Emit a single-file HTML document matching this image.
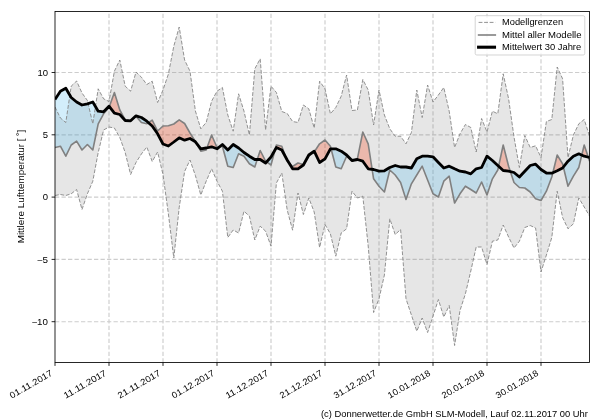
<!DOCTYPE html>
<html><head><meta charset="utf-8"><title>chart</title>
<style>html,body{margin:0;padding:0;background:#fff;}svg{display:block;will-change:transform;}text{font-family:"Liberation Sans",sans-serif;font-size:8.8px;fill:#000;}</style></head><body>
<svg width="600" height="420" viewBox="0 0 600 420">
<rect width="600" height="420" fill="#fff"/>
<defs>
<clipPath id="ax"><rect x="55.0" y="11.5" width="534.5" height="351.0"/></clipPath>
<clipPath id="above"><polygon points="55.0,99.5 60.4,91.2 65.8,88.2 71.2,97.5 76.6,102.0 82.0,105.0 87.4,103.8 92.8,102.0 98.2,111.2 103.6,111.8 109.0,106.2 114.4,113.2 119.8,114.5 125.2,120.5 130.6,120.8 136.0,115.8 141.4,117.5 146.8,121.2 152.2,126.0 157.6,133.8 163.0,144.0 168.4,146.0 173.8,142.0 179.2,137.8 184.6,140.2 190.0,138.5 195.4,141.8 200.8,148.8 206.2,148.0 211.6,146.8 217.0,148.8 222.4,144.5 227.8,150.0 233.2,144.5 238.6,148.0 244.0,152.5 249.4,156.2 254.8,159.5 260.2,159.5 265.6,163.0 271.0,157.0 276.4,147.5 281.8,150.0 287.2,160.0 292.6,168.8 298.0,168.8 303.4,165.0 308.8,155.0 314.2,151.2 319.6,162.5 325.0,158.8 330.4,148.8 335.8,148.8 341.2,151.2 346.6,155.0 352.0,160.5 357.4,159.5 362.8,161.2 368.2,168.8 373.6,169.5 379.0,171.2 384.4,170.8 389.8,167.5 395.2,165.5 400.6,167.0 406.0,167.0 411.4,168.0 416.8,158.8 422.2,156.2 427.6,156.2 433.0,156.8 438.4,162.5 443.8,168.0 449.2,166.2 454.6,168.8 460.0,171.2 465.4,172.0 470.8,173.8 476.2,168.8 481.6,167.5 487.0,156.2 492.4,160.5 497.8,165.5 503.2,170.5 508.6,171.2 514.0,172.5 519.4,177.0 524.8,171.2 530.2,165.5 535.6,164.2 541.0,169.5 546.4,173.0 551.8,173.2 557.2,170.8 562.6,168.0 568.0,161.2 573.4,156.2 578.8,153.8 584.2,156.2 589.6,157.5 589.5,0 55.0,0"/></clipPath>
<clipPath id="below"><polygon points="55.0,99.5 60.4,91.2 65.8,88.2 71.2,97.5 76.6,102.0 82.0,105.0 87.4,103.8 92.8,102.0 98.2,111.2 103.6,111.8 109.0,106.2 114.4,113.2 119.8,114.5 125.2,120.5 130.6,120.8 136.0,115.8 141.4,117.5 146.8,121.2 152.2,126.0 157.6,133.8 163.0,144.0 168.4,146.0 173.8,142.0 179.2,137.8 184.6,140.2 190.0,138.5 195.4,141.8 200.8,148.8 206.2,148.0 211.6,146.8 217.0,148.8 222.4,144.5 227.8,150.0 233.2,144.5 238.6,148.0 244.0,152.5 249.4,156.2 254.8,159.5 260.2,159.5 265.6,163.0 271.0,157.0 276.4,147.5 281.8,150.0 287.2,160.0 292.6,168.8 298.0,168.8 303.4,165.0 308.8,155.0 314.2,151.2 319.6,162.5 325.0,158.8 330.4,148.8 335.8,148.8 341.2,151.2 346.6,155.0 352.0,160.5 357.4,159.5 362.8,161.2 368.2,168.8 373.6,169.5 379.0,171.2 384.4,170.8 389.8,167.5 395.2,165.5 400.6,167.0 406.0,167.0 411.4,168.0 416.8,158.8 422.2,156.2 427.6,156.2 433.0,156.8 438.4,162.5 443.8,168.0 449.2,166.2 454.6,168.8 460.0,171.2 465.4,172.0 470.8,173.8 476.2,168.8 481.6,167.5 487.0,156.2 492.4,160.5 497.8,165.5 503.2,170.5 508.6,171.2 514.0,172.5 519.4,177.0 524.8,171.2 530.2,165.5 535.6,164.2 541.0,169.5 546.4,173.0 551.8,173.2 557.2,170.8 562.6,168.0 568.0,161.2 573.4,156.2 578.8,153.8 584.2,156.2 589.6,157.5 589.5,420 55.0,420"/></clipPath>
</defs>
<g stroke="#cdcdcd" stroke-width="1.15" stroke-dasharray="4.3 2.2" fill="none">
<line x1="109.0" y1="362.5" x2="109.0" y2="11.5"/>
<line x1="163.0" y1="362.5" x2="163.0" y2="11.5"/>
<line x1="217.0" y1="362.5" x2="217.0" y2="11.5"/>
<line x1="271.0" y1="362.5" x2="271.0" y2="11.5"/>
<line x1="325.0" y1="362.5" x2="325.0" y2="11.5"/>
<line x1="379.0" y1="362.5" x2="379.0" y2="11.5"/>
<line x1="433.0" y1="362.5" x2="433.0" y2="11.5"/>
<line x1="487.0" y1="362.5" x2="487.0" y2="11.5"/>
<line x1="541.0" y1="362.5" x2="541.0" y2="11.5"/>
<line x1="55.0" y1="72.5" x2="589.5" y2="72.5"/>
<line x1="55.0" y1="134.8" x2="589.5" y2="134.8"/>
<line x1="55.0" y1="197.1" x2="589.5" y2="197.1"/>
<line x1="55.0" y1="259.4" x2="589.5" y2="259.4"/>
<line x1="55.0" y1="321.7" x2="589.5" y2="321.7"/>
</g>
<g clip-path="url(#ax)">
<polygon points="55.0,107.0 60.4,118.0 65.8,122.5 71.2,86.2 76.6,81.0 82.0,93.0 87.4,100.5 92.8,123.8 98.2,88.8 103.6,98.8 109.0,101.5 114.4,71.2 119.8,60.0 125.2,86.2 130.6,91.2 136.0,72.0 141.4,77.2 146.8,84.5 152.2,81.2 157.6,102.5 163.0,90.0 168.4,74.0 173.8,46.2 179.2,27.0 184.6,60.0 190.0,71.2 195.4,111.0 200.8,128.8 206.2,122.5 211.6,101.2 217.0,91.2 222.4,87.5 227.8,115.0 233.2,131.2 238.6,93.8 244.0,111.2 249.4,135.0 254.8,68.8 260.2,58.8 265.6,130.0 271.0,86.2 276.4,92.5 281.8,111.5 287.2,113.5 292.6,121.5 298.0,122.5 303.4,105.0 308.8,108.8 314.2,128.0 319.6,81.2 325.0,88.8 330.4,113.8 335.8,107.5 341.2,96.2 346.6,75.0 352.0,110.5 357.4,110.0 362.8,79.5 368.2,90.0 373.6,125.0 379.0,90.0 384.4,115.0 389.8,128.8 395.2,136.2 400.6,136.2 406.0,143.8 411.4,132.5 416.8,90.0 422.2,117.5 427.6,85.0 433.0,102.0 438.4,95.0 443.8,87.5 449.2,111.2 454.6,147.5 460.0,133.8 465.4,124.5 470.8,127.5 476.2,152.0 481.6,118.5 487.0,132.0 492.4,111.2 497.8,113.8 503.2,73.8 508.6,98.8 514.0,137.0 519.4,167.5 524.8,135.5 530.2,147.5 535.6,145.8 541.0,157.5 546.4,121.5 551.8,119.5 557.2,67.0 562.6,78.8 568.0,157.5 573.4,135.0 578.8,123.8 584.2,119.5 589.6,136.2 589.6,216.0 584.2,207.0 578.8,198.0 573.4,223.8 568.0,228.8 562.6,217.5 557.2,191.2 551.8,237.5 546.4,255.0 541.0,272.0 535.6,228.0 530.2,225.5 524.8,227.5 519.4,241.2 514.0,248.0 508.6,237.0 503.2,225.0 497.8,240.0 492.4,241.2 487.0,264.5 481.6,247.0 476.2,247.0 470.8,271.0 465.4,293.8 460.0,310.5 454.6,345.5 449.2,305.5 443.8,317.0 438.4,299.5 433.0,316.2 427.6,332.5 422.2,318.0 416.8,331.2 411.4,315.0 406.0,298.8 400.6,229.5 395.2,234.5 389.8,218.8 384.4,275.0 379.0,298.8 373.6,312.5 368.2,246.0 362.8,196.2 357.4,198.0 352.0,191.2 346.6,228.8 341.2,233.0 335.8,256.2 330.4,233.8 325.0,224.5 319.6,247.5 314.2,212.0 308.8,198.0 303.4,214.5 298.0,193.0 292.6,230.2 287.2,210.0 281.8,173.0 276.4,183.0 271.0,246.2 265.6,231.2 260.2,226.2 254.8,240.0 249.4,216.2 244.0,211.2 238.6,233.0 233.2,230.0 227.8,237.5 222.4,191.2 217.0,181.2 211.6,168.8 206.2,181.2 200.8,195.0 195.4,175.5 190.0,160.0 184.6,171.5 179.2,207.5 173.8,258.0 168.4,214.0 163.0,174.5 157.6,152.0 152.2,161.5 146.8,147.0 141.4,154.0 136.0,162.5 130.6,174.5 125.2,152.5 119.8,137.5 114.4,128.0 109.0,127.0 103.6,130.0 98.2,152.5 92.8,181.2 87.4,193.8 82.0,209.5 76.6,189.5 71.2,193.8 65.8,195.5 60.4,194.5 55.0,195.5" fill="rgb(128,128,128)" fill-opacity="0.2"/>
<g clip-path="url(#above)"><polygon points="55.0,147.5 60.4,146.2 65.8,156.2 71.2,145.0 76.6,141.2 82.0,150.0 87.4,144.5 92.8,150.0 98.2,123.8 103.6,113.8 109.0,107.5 114.4,92.5 119.8,110.0 125.2,120.0 130.6,120.8 136.0,116.2 141.4,122.5 146.8,123.8 152.2,120.2 157.6,131.0 163.0,126.0 168.4,125.8 173.8,124.0 179.2,119.8 184.6,123.5 190.0,133.0 195.4,141.5 200.8,151.2 206.2,150.0 211.6,135.0 217.0,147.5 222.4,146.2 227.8,166.2 233.2,167.5 238.6,153.8 244.0,156.2 249.4,163.8 254.8,167.0 260.2,150.5 265.6,161.2 271.0,165.0 276.4,145.0 281.8,146.2 287.2,161.2 292.6,166.5 298.0,163.0 303.4,164.5 308.8,156.2 314.2,152.0 319.6,143.8 325.0,140.0 330.4,146.2 335.8,167.0 341.2,168.8 346.6,156.2 352.0,161.2 357.4,158.8 362.8,132.0 368.2,143.8 373.6,178.8 379.0,186.2 384.4,192.0 389.8,170.0 395.2,175.0 400.6,182.5 406.0,199.5 411.4,183.8 416.8,175.0 422.2,166.2 427.6,180.0 433.0,193.8 438.4,197.0 443.8,181.2 449.2,176.2 454.6,203.0 460.0,193.8 465.4,186.2 470.8,189.5 476.2,193.0 481.6,182.0 487.0,195.0 492.4,178.8 497.8,170.0 503.2,145.0 508.6,166.2 514.0,182.5 519.4,187.5 524.8,188.0 530.2,192.0 535.6,198.8 541.0,200.5 546.4,191.2 551.8,177.0 557.2,155.0 562.6,163.8 568.0,186.2 573.4,176.2 578.8,167.5 584.2,145.0 589.6,161.2 589.6,157.5 584.2,156.2 578.8,153.8 573.4,156.2 568.0,161.2 562.6,168.0 557.2,170.8 551.8,173.2 546.4,173.0 541.0,169.5 535.6,164.2 530.2,165.5 524.8,171.2 519.4,177.0 514.0,172.5 508.6,171.2 503.2,170.5 497.8,165.5 492.4,160.5 487.0,156.2 481.6,167.5 476.2,168.8 470.8,173.8 465.4,172.0 460.0,171.2 454.6,168.8 449.2,166.2 443.8,168.0 438.4,162.5 433.0,156.8 427.6,156.2 422.2,156.2 416.8,158.8 411.4,168.0 406.0,167.0 400.6,167.0 395.2,165.5 389.8,167.5 384.4,170.8 379.0,171.2 373.6,169.5 368.2,168.8 362.8,161.2 357.4,159.5 352.0,160.5 346.6,155.0 341.2,151.2 335.8,148.8 330.4,148.8 325.0,158.8 319.6,162.5 314.2,151.2 308.8,155.0 303.4,165.0 298.0,168.8 292.6,168.8 287.2,160.0 281.8,150.0 276.4,147.5 271.0,157.0 265.6,163.0 260.2,159.5 254.8,159.5 249.4,156.2 244.0,152.5 238.6,148.0 233.2,144.5 227.8,150.0 222.4,144.5 217.0,148.8 211.6,146.8 206.2,148.0 200.8,148.8 195.4,141.8 190.0,138.5 184.6,140.2 179.2,137.8 173.8,142.0 168.4,146.0 163.0,144.0 157.6,133.8 152.2,126.0 146.8,121.2 141.4,117.5 136.0,115.8 130.6,120.8 125.2,120.5 119.8,114.5 114.4,113.2 109.0,106.2 103.6,111.8 98.2,111.2 92.8,102.0 87.4,103.8 82.0,105.0 76.6,102.0 71.2,97.5 65.8,88.2 60.4,91.2 55.0,99.5" fill="rgb(250,46,0)" fill-opacity="0.25"/></g>
<g clip-path="url(#below)"><polygon points="55.0,147.5 60.4,146.2 65.8,156.2 71.2,145.0 76.6,141.2 82.0,150.0 87.4,144.5 92.8,150.0 98.2,123.8 103.6,113.8 109.0,107.5 114.4,92.5 119.8,110.0 125.2,120.0 130.6,120.8 136.0,116.2 141.4,122.5 146.8,123.8 152.2,120.2 157.6,131.0 163.0,126.0 168.4,125.8 173.8,124.0 179.2,119.8 184.6,123.5 190.0,133.0 195.4,141.5 200.8,151.2 206.2,150.0 211.6,135.0 217.0,147.5 222.4,146.2 227.8,166.2 233.2,167.5 238.6,153.8 244.0,156.2 249.4,163.8 254.8,167.0 260.2,150.5 265.6,161.2 271.0,165.0 276.4,145.0 281.8,146.2 287.2,161.2 292.6,166.5 298.0,163.0 303.4,164.5 308.8,156.2 314.2,152.0 319.6,143.8 325.0,140.0 330.4,146.2 335.8,167.0 341.2,168.8 346.6,156.2 352.0,161.2 357.4,158.8 362.8,132.0 368.2,143.8 373.6,178.8 379.0,186.2 384.4,192.0 389.8,170.0 395.2,175.0 400.6,182.5 406.0,199.5 411.4,183.8 416.8,175.0 422.2,166.2 427.6,180.0 433.0,193.8 438.4,197.0 443.8,181.2 449.2,176.2 454.6,203.0 460.0,193.8 465.4,186.2 470.8,189.5 476.2,193.0 481.6,182.0 487.0,195.0 492.4,178.8 497.8,170.0 503.2,145.0 508.6,166.2 514.0,182.5 519.4,187.5 524.8,188.0 530.2,192.0 535.6,198.8 541.0,200.5 546.4,191.2 551.8,177.0 557.2,155.0 562.6,163.8 568.0,186.2 573.4,176.2 578.8,167.5 584.2,145.0 589.6,161.2 589.6,157.5 584.2,156.2 578.8,153.8 573.4,156.2 568.0,161.2 562.6,168.0 557.2,170.8 551.8,173.2 546.4,173.0 541.0,169.5 535.6,164.2 530.2,165.5 524.8,171.2 519.4,177.0 514.0,172.5 508.6,171.2 503.2,170.5 497.8,165.5 492.4,160.5 487.0,156.2 481.6,167.5 476.2,168.8 470.8,173.8 465.4,172.0 460.0,171.2 454.6,168.8 449.2,166.2 443.8,168.0 438.4,162.5 433.0,156.8 427.6,156.2 422.2,156.2 416.8,158.8 411.4,168.0 406.0,167.0 400.6,167.0 395.2,165.5 389.8,167.5 384.4,170.8 379.0,171.2 373.6,169.5 368.2,168.8 362.8,161.2 357.4,159.5 352.0,160.5 346.6,155.0 341.2,151.2 335.8,148.8 330.4,148.8 325.0,158.8 319.6,162.5 314.2,151.2 308.8,155.0 303.4,165.0 298.0,168.8 292.6,168.8 287.2,160.0 281.8,150.0 276.4,147.5 271.0,157.0 265.6,163.0 260.2,159.5 254.8,159.5 249.4,156.2 244.0,152.5 238.6,148.0 233.2,144.5 227.8,150.0 222.4,144.5 217.0,148.8 211.6,146.8 206.2,148.0 200.8,148.8 195.4,141.8 190.0,138.5 184.6,140.2 179.2,137.8 173.8,142.0 168.4,146.0 163.0,144.0 157.6,133.8 152.2,126.0 146.8,121.2 141.4,117.5 136.0,115.8 130.6,120.8 125.2,120.5 119.8,114.5 114.4,113.2 109.0,106.2 103.6,111.8 98.2,111.2 92.8,102.0 87.4,103.8 82.0,105.0 76.6,102.0 71.2,97.5 65.8,88.2 60.4,91.2 55.0,99.5" fill="rgb(80,188,240)" fill-opacity="0.25"/></g>
<g stroke="#868686" stroke-width="0.9" stroke-dasharray="3.85 1.67" fill="none">
<polyline points="55.0,107.0 60.4,118.0 65.8,122.5 71.2,86.2 76.6,81.0 82.0,93.0 87.4,100.5 92.8,123.8 98.2,88.8 103.6,98.8 109.0,101.5 114.4,71.2 119.8,60.0 125.2,86.2 130.6,91.2 136.0,72.0 141.4,77.2 146.8,84.5 152.2,81.2 157.6,102.5 163.0,90.0 168.4,74.0 173.8,46.2 179.2,27.0 184.6,60.0 190.0,71.2 195.4,111.0 200.8,128.8 206.2,122.5 211.6,101.2 217.0,91.2 222.4,87.5 227.8,115.0 233.2,131.2 238.6,93.8 244.0,111.2 249.4,135.0 254.8,68.8 260.2,58.8 265.6,130.0 271.0,86.2 276.4,92.5 281.8,111.5 287.2,113.5 292.6,121.5 298.0,122.5 303.4,105.0 308.8,108.8 314.2,128.0 319.6,81.2 325.0,88.8 330.4,113.8 335.8,107.5 341.2,96.2 346.6,75.0 352.0,110.5 357.4,110.0 362.8,79.5 368.2,90.0 373.6,125.0 379.0,90.0 384.4,115.0 389.8,128.8 395.2,136.2 400.6,136.2 406.0,143.8 411.4,132.5 416.8,90.0 422.2,117.5 427.6,85.0 433.0,102.0 438.4,95.0 443.8,87.5 449.2,111.2 454.6,147.5 460.0,133.8 465.4,124.5 470.8,127.5 476.2,152.0 481.6,118.5 487.0,132.0 492.4,111.2 497.8,113.8 503.2,73.8 508.6,98.8 514.0,137.0 519.4,167.5 524.8,135.5 530.2,147.5 535.6,145.8 541.0,157.5 546.4,121.5 551.8,119.5 557.2,67.0 562.6,78.8 568.0,157.5 573.4,135.0 578.8,123.8 584.2,119.5 589.6,136.2"/>
<polyline points="55.0,195.5 60.4,194.5 65.8,195.5 71.2,193.8 76.6,189.5 82.0,209.5 87.4,193.8 92.8,181.2 98.2,152.5 103.6,130.0 109.0,127.0 114.4,128.0 119.8,137.5 125.2,152.5 130.6,174.5 136.0,162.5 141.4,154.0 146.8,147.0 152.2,161.5 157.6,152.0 163.0,174.5 168.4,214.0 173.8,258.0 179.2,207.5 184.6,171.5 190.0,160.0 195.4,175.5 200.8,195.0 206.2,181.2 211.6,168.8 217.0,181.2 222.4,191.2 227.8,237.5 233.2,230.0 238.6,233.0 244.0,211.2 249.4,216.2 254.8,240.0 260.2,226.2 265.6,231.2 271.0,246.2 276.4,183.0 281.8,173.0 287.2,210.0 292.6,230.2 298.0,193.0 303.4,214.5 308.8,198.0 314.2,212.0 319.6,247.5 325.0,224.5 330.4,233.8 335.8,256.2 341.2,233.0 346.6,228.8 352.0,191.2 357.4,198.0 362.8,196.2 368.2,246.0 373.6,312.5 379.0,298.8 384.4,275.0 389.8,218.8 395.2,234.5 400.6,229.5 406.0,298.8 411.4,315.0 416.8,331.2 422.2,318.0 427.6,332.5 433.0,316.2 438.4,299.5 443.8,317.0 449.2,305.5 454.6,345.5 460.0,310.5 465.4,293.8 470.8,271.0 476.2,247.0 481.6,247.0 487.0,264.5 492.4,241.2 497.8,240.0 503.2,225.0 508.6,237.0 514.0,248.0 519.4,241.2 524.8,227.5 530.2,225.5 535.6,228.0 541.0,272.0 546.4,255.0 551.8,237.5 557.2,191.2 562.6,217.5 568.0,228.8 573.4,223.8 578.8,198.0 584.2,207.0 589.6,216.0"/>
</g>
<polyline points="55.0,147.5 60.4,146.2 65.8,156.2 71.2,145.0 76.6,141.2 82.0,150.0 87.4,144.5 92.8,150.0 98.2,123.8 103.6,113.8 109.0,107.5 114.4,92.5 119.8,110.0 125.2,120.0 130.6,120.8 136.0,116.2 141.4,122.5 146.8,123.8 152.2,120.2 157.6,131.0 163.0,126.0 168.4,125.8 173.8,124.0 179.2,119.8 184.6,123.5 190.0,133.0 195.4,141.5 200.8,151.2 206.2,150.0 211.6,135.0 217.0,147.5 222.4,146.2 227.8,166.2 233.2,167.5 238.6,153.8 244.0,156.2 249.4,163.8 254.8,167.0 260.2,150.5 265.6,161.2 271.0,165.0 276.4,145.0 281.8,146.2 287.2,161.2 292.6,166.5 298.0,163.0 303.4,164.5 308.8,156.2 314.2,152.0 319.6,143.8 325.0,140.0 330.4,146.2 335.8,167.0 341.2,168.8 346.6,156.2 352.0,161.2 357.4,158.8 362.8,132.0 368.2,143.8 373.6,178.8 379.0,186.2 384.4,192.0 389.8,170.0 395.2,175.0 400.6,182.5 406.0,199.5 411.4,183.8 416.8,175.0 422.2,166.2 427.6,180.0 433.0,193.8 438.4,197.0 443.8,181.2 449.2,176.2 454.6,203.0 460.0,193.8 465.4,186.2 470.8,189.5 476.2,193.0 481.6,182.0 487.0,195.0 492.4,178.8 497.8,170.0 503.2,145.0 508.6,166.2 514.0,182.5 519.4,187.5 524.8,188.0 530.2,192.0 535.6,198.8 541.0,200.5 546.4,191.2 551.8,177.0 557.2,155.0 562.6,163.8 568.0,186.2 573.4,176.2 578.8,167.5 584.2,145.0 589.6,161.2" fill="none" stroke="#808080" stroke-width="1.6" stroke-linejoin="round"/>
<polyline points="55.0,99.5 60.4,91.2 65.8,88.2 71.2,97.5 76.6,102.0 82.0,105.0 87.4,103.8 92.8,102.0 98.2,111.2 103.6,111.8 109.0,106.2 114.4,113.2 119.8,114.5 125.2,120.5 130.6,120.8 136.0,115.8 141.4,117.5 146.8,121.2 152.2,126.0 157.6,133.8 163.0,144.0 168.4,146.0 173.8,142.0 179.2,137.8 184.6,140.2 190.0,138.5 195.4,141.8 200.8,148.8 206.2,148.0 211.6,146.8 217.0,148.8 222.4,144.5 227.8,150.0 233.2,144.5 238.6,148.0 244.0,152.5 249.4,156.2 254.8,159.5 260.2,159.5 265.6,163.0 271.0,157.0 276.4,147.5 281.8,150.0 287.2,160.0 292.6,168.8 298.0,168.8 303.4,165.0 308.8,155.0 314.2,151.2 319.6,162.5 325.0,158.8 330.4,148.8 335.8,148.8 341.2,151.2 346.6,155.0 352.0,160.5 357.4,159.5 362.8,161.2 368.2,168.8 373.6,169.5 379.0,171.2 384.4,170.8 389.8,167.5 395.2,165.5 400.6,167.0 406.0,167.0 411.4,168.0 416.8,158.8 422.2,156.2 427.6,156.2 433.0,156.8 438.4,162.5 443.8,168.0 449.2,166.2 454.6,168.8 460.0,171.2 465.4,172.0 470.8,173.8 476.2,168.8 481.6,167.5 487.0,156.2 492.4,160.5 497.8,165.5 503.2,170.5 508.6,171.2 514.0,172.5 519.4,177.0 524.8,171.2 530.2,165.5 535.6,164.2 541.0,169.5 546.4,173.0 551.8,173.2 557.2,170.8 562.6,168.0 568.0,161.2 573.4,156.2 578.8,153.8 584.2,156.2 589.6,157.5" fill="none" stroke="#000" stroke-width="2.8" stroke-linejoin="round" stroke-linecap="butt"/>
</g>
<rect x="55.0" y="11.5" width="534.5" height="351.0" fill="none" stroke="#000" stroke-width="0.85"/>
<g stroke="#000" stroke-width="0.85">
<line x1="55.0" y1="362.5" x2="55.0" y2="365.9"/>
<line x1="109.0" y1="362.5" x2="109.0" y2="365.9"/>
<line x1="163.0" y1="362.5" x2="163.0" y2="365.9"/>
<line x1="217.0" y1="362.5" x2="217.0" y2="365.9"/>
<line x1="271.0" y1="362.5" x2="271.0" y2="365.9"/>
<line x1="325.0" y1="362.5" x2="325.0" y2="365.9"/>
<line x1="379.0" y1="362.5" x2="379.0" y2="365.9"/>
<line x1="433.0" y1="362.5" x2="433.0" y2="365.9"/>
<line x1="487.0" y1="362.5" x2="487.0" y2="365.9"/>
<line x1="541.0" y1="362.5" x2="541.0" y2="365.9"/>
<line x1="51.6" y1="72.5" x2="55.0" y2="72.5"/>
<line x1="51.6" y1="134.8" x2="55.0" y2="134.8"/>
<line x1="51.6" y1="197.1" x2="55.0" y2="197.1"/>
<line x1="51.6" y1="259.4" x2="55.0" y2="259.4"/>
<line x1="51.6" y1="321.7" x2="55.0" y2="321.7"/>
</g>
<text x="48.0" y="75.7" text-anchor="end" textLength="10.6" lengthAdjust="spacingAndGlyphs">10</text>
<text x="48.0" y="138.0" text-anchor="end" textLength="5.3" lengthAdjust="spacingAndGlyphs">5</text>
<text x="48.0" y="200.3" text-anchor="end" textLength="5.3" lengthAdjust="spacingAndGlyphs">0</text>
<text x="48.0" y="262.6" text-anchor="end" textLength="11.3" lengthAdjust="spacingAndGlyphs">−5</text>
<text x="48.0" y="324.9" text-anchor="end" textLength="16.6" lengthAdjust="spacingAndGlyphs">−10</text>
<text x="0.0" y="0.0" text-anchor="end" transform="translate(53.1,374.9) rotate(-30)" textLength="47.7" lengthAdjust="spacingAndGlyphs">01.11.2017</text>
<text x="0.0" y="0.0" text-anchor="end" transform="translate(107.1,374.9) rotate(-30)" textLength="47.7" lengthAdjust="spacingAndGlyphs">11.11.2017</text>
<text x="0.0" y="0.0" text-anchor="end" transform="translate(161.1,374.9) rotate(-30)" textLength="47.7" lengthAdjust="spacingAndGlyphs">21.11.2017</text>
<text x="0.0" y="0.0" text-anchor="end" transform="translate(215.1,374.9) rotate(-30)" textLength="47.7" lengthAdjust="spacingAndGlyphs">01.12.2017</text>
<text x="0.0" y="0.0" text-anchor="end" transform="translate(269.1,374.9) rotate(-30)" textLength="47.7" lengthAdjust="spacingAndGlyphs">11.12.2017</text>
<text x="0.0" y="0.0" text-anchor="end" transform="translate(323.1,374.9) rotate(-30)" textLength="47.7" lengthAdjust="spacingAndGlyphs">21.12.2017</text>
<text x="0.0" y="0.0" text-anchor="end" transform="translate(377.1,374.9) rotate(-30)" textLength="47.7" lengthAdjust="spacingAndGlyphs">31.12.2017</text>
<text x="0.0" y="0.0" text-anchor="end" transform="translate(431.1,374.9) rotate(-30)" textLength="47.7" lengthAdjust="spacingAndGlyphs">10.01.2018</text>
<text x="0.0" y="0.0" text-anchor="end" transform="translate(485.1,374.9) rotate(-30)" textLength="47.7" lengthAdjust="spacingAndGlyphs">20.01.2018</text>
<text x="0.0" y="0.0" text-anchor="end" transform="translate(539.1,374.9) rotate(-30)" textLength="47.7" lengthAdjust="spacingAndGlyphs">30.01.2018</text>
<text x="0.0" y="0.0" text-anchor="middle" transform="translate(24.3,186.5) rotate(-90)" textLength="113.7" lengthAdjust="spacingAndGlyphs">Mittlere Lufttemperatur [ ˚]</text>
<text x="321.0" y="417.3" textLength="266.9" lengthAdjust="spacingAndGlyphs">(c) Donnerwetter.de GmbH SLM-Modell, Lauf 02.11.2017 00 Uhr</text>
<rect x="475.2" y="15.7" width="109.6" height="39.3" rx="1.6" ry="1.6" fill="#fff" fill-opacity="0.8" stroke="#cccccc" stroke-width="0.85"/>
<line x1="478.6" y1="22.4" x2="495.3" y2="22.4" stroke="#868686" stroke-width="0.9" stroke-dasharray="3.85 1.67"/>
<line x1="478.6" y1="35.0" x2="495.3" y2="35.0" stroke="#808080" stroke-width="1.6" stroke-linecap="square"/>
<line x1="478.6" y1="47.2" x2="494.5" y2="47.2" stroke="#000" stroke-width="3.1" stroke-linecap="square"/>
<text x="502.0" y="25.4" textLength="61.1" lengthAdjust="spacingAndGlyphs">Modellgrenzen</text>
<text x="502.0" y="37.7" textLength="79.5" lengthAdjust="spacingAndGlyphs">Mittel aller Modelle</text>
<text x="502.0" y="50.0" textLength="79.2" lengthAdjust="spacingAndGlyphs">Mittelwert 30 Jahre</text>
</svg></body></html>
